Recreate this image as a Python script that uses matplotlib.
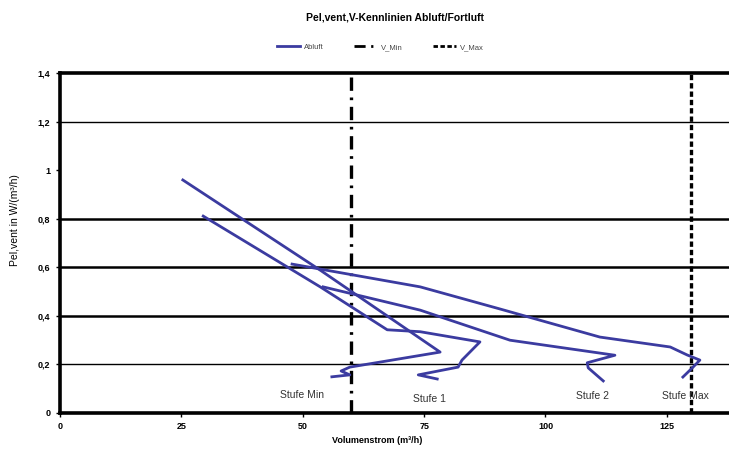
import matplotlib
matplotlib.use("Agg")
import matplotlib.pyplot as plt
from matplotlib.lines import Line2D

plt.rcParams['font.family'] = ['Liberation Sans', 'DejaVu Sans']

# Data (Volumenstrom m³/h, Pel,vent W/(m³/h)), one list per stage
stufe_min_x = [25.3, 53.6, 78.3, 59.7, 57.9, 59.7, 56.0]
stufe_min_y = [0.960, 0.588, 0.250, 0.188, 0.172, 0.156, 0.148]

stufe_1_x = [29.5, 53.6, 67.4, 74.2, 86.5, 82.8, 82.0, 73.8, 77.7]
stufe_1_y = [0.811, 0.519, 0.342, 0.334, 0.292, 0.217, 0.188, 0.156, 0.139]

stufe_2_x = [54.2, 74.2, 92.7, 114.3, 108.6, 108.8, 111.9]
stufe_2_y = [0.519, 0.423, 0.299, 0.237, 0.206, 0.185, 0.131]

stufe_max_x = [47.8, 74.2, 90.6, 111.2, 125.7, 129.2, 131.8, 130.2, 128.3]
stufe_max_y = [0.613, 0.519, 0.428, 0.312, 0.271, 0.238, 0.217, 0.184, 0.147]

v_min = 60
v_max = 130

x_ticks = [0, 25, 50, 75, 100, 125]
y_ticks = [0, 0.2, 0.4, 0.6, 0.8, 1.0, 1.2, 1.4]
y_tick_labels = ["0", "0,2", "0,4", "0,6", "0,8", "1", "1,2", "1,4"]

grid_thin = [0.2, 1.2]
grid_thick = [0.4, 0.6, 0.8]

stage_labels = ["Stufe Min", "Stufe 1", "Stufe 2", "Stufe Max"]
stage_label_x = [49.9, 76.2, 109.6, 128.9]
stage_label_y = [0.073, 0.058, 0.067, 0.067]

blue = '#3B3BA0'

fig = plt.figure(figsize=(7.29, 4.5), dpi=100)
ax = fig.add_axes([0.0823, 0.0829, 0.9177, 0.7542])

ax.set_xlim(0, 137.8)
ax.set_ylim(0, 1.4)

for y in grid_thin:
    ax.axhline(y, color='black', lw=1.0, zorder=1)
for y in grid_thick:
    ax.axhline(y, color='black', lw=1.8, zorder=1)

for xs, ys in [(stufe_min_x, stufe_min_y), (stufe_1_x, stufe_1_y),
               (stufe_2_x, stufe_2_y), (stufe_max_x, stufe_max_y)]:
    ax.plot(xs, ys, color=blue, lw=2.0, zorder=3, solid_joinstyle='round')

ax.axvline(v_min, color='black', lw=2.4, dashes=(4, 2, 0.8, 2), zorder=2)
ax.axvline(v_max, color='black', lw=2.4, dashes=(1.6, 0.9), zorder=2)

for t, x, y in zip(stage_labels, stage_label_x, stage_label_y):
    ax.text(x, y, t, ha='center', va='center', fontsize=7.5, color='#333333')

ax.spines['right'].set_visible(False)
for s in ['left', 'bottom', 'top']:
    ax.spines[s].set_linewidth(2.6)

ax.set_xticks(x_ticks)
ax.set_xticklabels([str(v) for v in x_ticks], fontsize=6.5, fontweight='bold')
ax.set_yticks(y_ticks)
ax.set_yticklabels(y_tick_labels, fontsize=6.5, fontweight='bold')
ax.tick_params(axis='both', direction='out', length=3, width=1, pad=4)

fig.text(0.02, 0.51, "Pel,vent in W/(m³/h)", rotation=90, ha='center', va='center', fontsize=7.5)
fig.text(0.517, 0.022, "Volumenstrom (m³/h)", ha='center', va='center', fontsize=6.5, fontweight='bold')
fig.text(0.542, 0.96, "Pel,vent,V-Kennlinien Abluft/Fortluft", ha='center', va='center',
         fontsize=7.5, fontweight='bold')

handles = [
    Line2D([], [], color=blue, lw=2.0),
    Line2D([], [], color='black', lw=2.0, dashes=(4, 2, 0.8, 2)),
    Line2D([], [], color='black', lw=2.0, dashes=(1.6, 0.9)),
]
fig.legend(handles, ["Abluft", "V_Min", "V_Max"], loc='center', bbox_to_anchor=(0.522, 0.895),
           ncol=3, frameon=False, fontsize=5.5, handlelength=3.0, handletextpad=0.5,
           columnspacing=4.0, labelcolor='#444444')

fig.savefig("out.png", dpi=100)
